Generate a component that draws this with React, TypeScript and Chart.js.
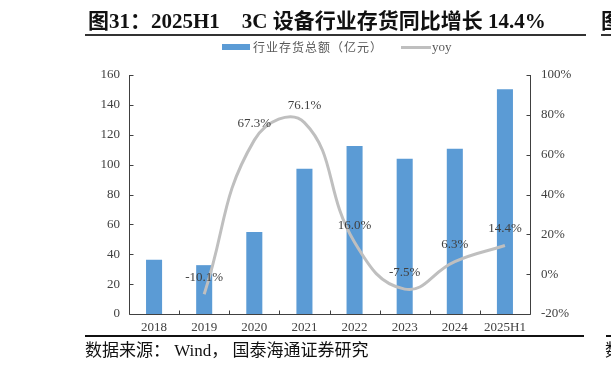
import React, { useEffect, useRef } from "react";
import { Chart, registerables } from "chart.js";

Chart.register(...registerables);

const categories = ["2018", "2019", "2020", "2021", "2022", "2023", "2024", "2025H1"];
const inventory = [36.3, 32.7, 54.9, 97.3, 112.5, 104.0, 110.7, 150.4];
const yoy: (number | null)[] = [null, -10.1, 67.3, 76.1, 16.0, -7.5, 6.3, 14.4];
const yoyLabels = ["", "-10.1%", "67.3%", "76.1%", "16.0%", "-7.5%", "6.3%", "14.4%"];

const SERIF = '"Liberation Serif", "Times New Roman", "Noto Sans CJK SC", serif';
const BAR_COLOR = "#5b9bd5";
const LINE_COLOR = "#bfbfbf";
const AXIS_COLOR = "#404040";
const TEXT_COLOR = "#404040";

const axisPlugin = {
  id: "axisLines",
  afterDraw(chart: any) {
    const { ctx, chartArea: a, scales } = chart;
    ctx.save();
    ctx.strokeStyle = AXIS_COLOR;
    ctx.lineWidth = 1;
    ctx.beginPath();
    const L = Math.round(a.left) + 0.5;
    const R = Math.round(a.right) + 0.5;
    const B = Math.round(a.bottom) + 0.5;
    const T = Math.round(a.top);
    ctx.moveTo(L, T);
    ctx.lineTo(L, B);
    ctx.lineTo(R, B);
    ctx.lineTo(R, T);
    scales.y.ticks.forEach((t: any) => {
      const y = Math.round(scales.y.getPixelForValue(t.value)) + 0.5;
      ctx.moveTo(L, y);
      ctx.lineTo(L + 4, y);
    });
    scales.y1.ticks.forEach((t: any) => {
      const y = Math.round(scales.y1.getPixelForValue(t.value)) + 0.5;
      ctx.moveTo(R, y);
      ctx.lineTo(R - 4, y);
    });
    const xs = scales.x;
    for (let i = 0; i < categories.length - 1; i++) {
      const x = Math.round((xs.getPixelForValue(i) + xs.getPixelForValue(i + 1)) / 2) + 0.5;
      ctx.moveTo(x, B);
      ctx.lineTo(x, B - 4);
    }
    ctx.stroke();
    ctx.restore();
  },
};

const labelPlugin = {
  id: "yoyLabels",
  afterDatasetsDraw(chart: any) {
    const { ctx } = chart;
    const meta = chart.getDatasetMeta(1);
    ctx.save();
    ctx.font = `13px ${SERIF}`;
    ctx.fillStyle = TEXT_COLOR;
    ctx.textAlign = "center";
    ctx.textBaseline = "middle";
    meta.data.forEach((pt: any, i: number) => {
      if (yoy[i] === null || !yoyLabels[i]) return;
      ctx.fillText(yoyLabels[i], pt.x, pt.y - 17);
    });
    ctx.restore();
  },
};

export default function App() {
  const ref = useRef<HTMLCanvasElement | null>(null);

  useEffect(() => {
    if (!ref.current) return;
    const chart = new Chart(ref.current, {
      type: "bar",
      data: {
        labels: categories,
        datasets: [
          {
            type: "bar",
            label: "行业存货总额（亿元）",
            data: inventory,
            backgroundColor: BAR_COLOR,
            borderWidth: 0,
            barPercentage: 0.32,
            categoryPercentage: 1,
            yAxisID: "y",
            order: 1,
          },
          {
            type: "line",
            label: "yoy",
            data: yoy as any,
            borderColor: LINE_COLOR,
            borderWidth: 3,
            pointRadius: 0,
            tension: 0.45,
            fill: false,
            yAxisID: "y1",
            order: 0,
          },
        ],
      },
      options: {
        responsive: false,
        animation: false,
        devicePixelRatio: 1,
        layout: { padding: { top: 75, left: 0, right: 0, bottom: 0 } },
        plugins: {
          legend: { display: false },
          title: { display: false },
          tooltip: { enabled: false },
        },
        scales: {
          x: {
            grid: { display: false, drawTicks: false },
            border: { display: false },
            ticks: { color: TEXT_COLOR, font: { family: SERIF, size: 13 }, padding: 6, maxRotation: 0 },
            afterFit: (s: any) => {
              s.height = 55;
            },
          },
          y: {
            position: "left",
            min: 0,
            max: 160,
            grid: { display: false, drawTicks: false },
            border: { display: false },
            ticks: { stepSize: 20, color: TEXT_COLOR, font: { family: SERIF, size: 13 }, padding: 9 },
            afterFit: (s: any) => {
              s.width = 129;
            },
          },
          y1: {
            position: "right",
            min: -20,
            max: 100,
            grid: { display: false, drawTicks: false },
            border: { display: false },
            ticks: {
              stepSize: 20,
              color: TEXT_COLOR,
              font: { family: SERIF, size: 13 },
              padding: 11,
              callback: (v: any) => `${v}%`,
            },
            afterFit: (s: any) => {
              s.width = 81;
            },
          },
        },
      },
      plugins: [axisPlugin, labelPlugin],
    });
    return () => chart.destroy();
  }, []);

  return (
    <div
      style={{
        position: "fixed",
        left: 0,
        top: 0,
        width: 611,
        height: 369,
        background: "#ffffff",
        overflow: "hidden",
        fontFamily: SERIF,
      }}
    >
      <canvas ref={ref} width={611} height={369} style={{ position: "absolute", left: 0, top: 0, width: 611, height: 369 }} />
      <div
        style={{
          position: "absolute",
          left: 88,
          top: 9,
          fontSize: 21,
          lineHeight: "24px",
          fontWeight: "bold",
          color: "#111",
          whiteSpace: "pre",
        }}
      >
        图31：2025H1<span style={{ marginLeft: 22 }}>3C 设备行业存货同比增长 14.4%</span>
      </div>
      <div style={{ position: "absolute", left: 85, top: 34, width: 501, height: 2, background: "#333" }} />
      <div style={{ position: "absolute", left: 601, top: 9, fontSize: 21, lineHeight: "24px", fontWeight: "bold", color: "#111" }}>图</div>
      <div style={{ position: "absolute", left: 601, top: 34, width: 20, height: 2, background: "#333" }} />
      <div style={{ position: "absolute", left: 222, top: 44, width: 28, height: 6, background: BAR_COLOR }} />
      <div
        style={{
          position: "absolute",
          left: 253,
          top: 38,
          fontSize: 12,
          lineHeight: "18px",
          color: "#595959",
          letterSpacing: 1,
          whiteSpace: "pre",
          fontFamily: '"Noto Sans CJK SC", sans-serif',
        }}
      >
        行业存货总额（亿元）
      </div>
      <div style={{ position: "absolute", left: 401, top: 46, width: 30, height: 3, background: LINE_COLOR }} />
      <div style={{ position: "absolute", left: 432, top: 38, fontSize: 13, lineHeight: "18px", color: "#595959" }}>yoy</div>
      <div style={{ position: "absolute", left: 85, top: 335, width: 499, height: 1.5, background: "#111" }} />
      <div style={{ position: "absolute", left: 606, top: 335, width: 20, height: 1.5, background: "#111" }} />
      <div
        style={{
          position: "absolute",
          left: 85,
          top: 340,
          fontSize: 17,
          lineHeight: "22px",
          color: "#111",
          whiteSpace: "pre",
        }}
      >
        数据来源： Wind， 国泰海通证券研究
      </div>
      <div style={{ position: "absolute", left: 605, top: 340, fontSize: 17, lineHeight: "22px", color: "#111" }}>数</div>
    </div>
  );
}
